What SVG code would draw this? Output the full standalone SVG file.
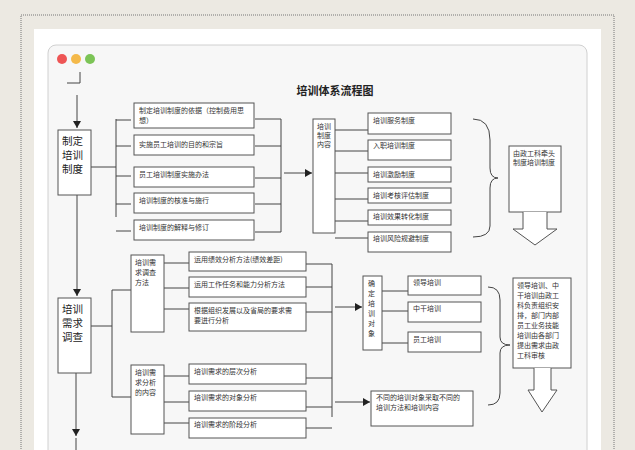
<svg xmlns="http://www.w3.org/2000/svg" width="635" height="450" viewBox="0 0 635 450">
<style>
.b{fill:#fff;stroke:#555;stroke-width:1}
.l{stroke:#444;stroke-width:1;fill:none}
text{font-family:"Noto Sans CJK SC","Noto Sans",sans-serif;fill:#333;font-size:7px}
.big{font-size:10.5px;fill:#222}
.t{font-size:11px;font-weight:bold;fill:#222}
</style>
<defs>
<marker id="ar" markerWidth="8" markerHeight="8" refX="7" refY="4" orient="auto" markerUnits="userSpaceOnUse"><path d="M0,0 L7,4 L0,8Z" fill="#222"/></marker>
</defs>
<rect width="635" height="450" fill="#ece9e2"/>
<rect x="21" y="15" width="593" height="445" fill="none" stroke="#777" stroke-dasharray="1,1"/>
<rect x="34" y="29" width="567" height="425" fill="#fff"/>
<rect x="48" y="45" width="539" height="420" rx="8" fill="#f7f7f7" stroke="#d0d0d0"/>
<circle cx="62" cy="59" r="5" fill="#ee5555"/><circle cx="76" cy="59" r="5" fill="#f4b94a"/><circle cx="90" cy="59" r="5" fill="#7cc456"/>
<text x="335" y="95" text-anchor="middle" class="t">培训体系流程图</text>
<g id="connectors">
<path class="l" d="M80,72 V83 H67"/>
<path class="l" d="M77,95 V128" marker-end="url(#ar)"/>
<path class="l" d="M77,195 V240 M77,240 V296" marker-end="url(#ar)"/>
<path class="l" d="M91,167 H116 M116,119 V217 M116,120 H131 M116,146 H131 M116,176 H131 M116,204 H131 M116,231 H131"/>
<path class="l" d="M255,119 H281 M255,146 H281 M255,178 H281 M255,204 H281 M255,232 H281 M281,119 V232"/>
<path class="l" d="M284,173 H312" marker-end="url(#ar)"/>
<path class="l" d="M335,130 H368 M335,151 H368 M335,173 H368 M335,199 H368 M335,221 H368 M335,238 H368"/>
<path class="l" d="M473,119 Q490,119 490,140 L490,168 Q490,178 498,178 Q490,178 490,188 L490,226 Q490,237 473,237"/>
<path class="l" d="M76,373 V436" marker-end="url(#ar)"/>
<path class="l" d="M76,438 V450"/>
<path class="l" d="M91,326 H112 M112,290 V397 M112,290 H131 M112,397 H131"/>
<path class="l" d="M164,263 H189 M164,288 H189 M164,309 H189 M164,376 H189 M164,402 H189 M164,423 H189"/>
<path class="l" d="M306,264 H332 M306,287 H332 M306,312 H332 M306,378 H332 M306,407 H332 M306,428 H332 M332,264 V417"/>
<path class="l" d="M335,307 H362" marker-end="url(#ar)"/>
<path class="l" d="M335,402 H370" marker-end="url(#ar)"/>
<path class="l" d="M382,291 H408 M382,311 H408 M382,343 H408"/>
<path class="l" d="M488,287 Q500,287 500,300 L500,337 Q500,345 510,345 Q500,345 500,353 L500,393 Q500,405 488,405"/>
</g>
<g id="n1"><rect class="b" x="58" y="130" width="33" height="65"/><text class="big" x="62" y="145">制定</text><text class="big" x="62" y="159">培训</text><text class="big" x="62" y="173">制度</text></g>
<g id="n2"><rect class="b" x="134" y="103" width="120" height="25"/><text x="139" y="113">制定培训制度的依据（控制费用思</text><text x="139" y="123">想）</text></g>
<g id="n3"><rect class="b" x="134" y="135" width="120" height="20"/><text x="139" y="147">实施员工培训的目的和宗旨</text></g>
<g id="n4"><rect class="b" x="134" y="167" width="120" height="20"/><text x="139" y="177">员工培训制度实施办法</text></g>
<g id="n5"><rect class="b" x="134" y="193" width="120" height="20"/><text x="139" y="203">培训制度的核准与施行</text></g>
<g id="n6"><rect class="b" x="134" y="220" width="120" height="20"/><text x="139" y="230">培训制度的解释与修订</text></g>
<g id="n7"><rect class="b" x="313" y="119" width="22" height="114"/><text x="317" y="129">培训</text><text x="317" y="138">制度</text><text x="317" y="147">内容</text></g>
<g id="n8"><rect class="b" x="368" y="113" width="83" height="21"/><text x="373" y="123">培训服务制度</text></g>
<g id="n9"><rect class="b" x="368" y="140" width="83" height="20"/><text x="373" y="148">入职培训制度</text></g>
<g id="n10"><rect class="b" x="368" y="167" width="83" height="15"/><text x="373" y="177">培训激励制度</text></g>
<g id="n11"><rect class="b" x="368" y="188" width="83" height="15"/><text x="373" y="198">培训考核评估制度</text></g>
<g id="n12"><rect class="b" x="368" y="210" width="83" height="15"/><text x="373" y="219">培训效果转化制度</text></g>
<g id="n13"><rect class="b" x="368" y="232" width="83" height="20"/><text x="373" y="241">培训风险规避制度</text></g>
<g id="n14"><rect class="b" x="509" y="146" width="52" height="66"/><text x="513" y="156">由政工科牵头</text><text x="513" y="165">制度培训制度</text></g>
<g id="a1"><path class="b" d="M523,212 V229 H513 L535,245 L557,229 H547 V212"/></g>
<g id="n15"><rect class="b" x="58" y="298" width="33" height="75"/><text class="big" x="62" y="313">培训</text><text class="big" x="62" y="327">需求</text><text class="big" x="62" y="341">调查</text></g>
<g id="n16"><rect class="b" x="131" y="255" width="33" height="77"/><text x="135" y="265">培训需</text><text x="135" y="275">求调查</text><text x="135" y="285">方法</text></g>
<g id="n17"><rect class="b" x="131" y="365" width="33" height="69"/><text x="135" y="375">培训需</text><text x="135" y="385">求分析</text><text x="135" y="395">的内容</text></g>
<g id="n18"><rect class="b" x="189" y="252" width="117" height="19"/><text x="194" y="262">运用绩效分析方法(绩效差距)</text></g>
<g id="n19"><rect class="b" x="189" y="277" width="117" height="20"/><text x="194" y="287">运用工作任务和能力分析方法</text></g>
<g id="n20"><rect class="b" x="189" y="303" width="117" height="28"/><text x="194" y="313">根据组织发展以及省局的要求需</text><text x="194" y="323">要进行分析</text></g>
<g id="n21"><rect class="b" x="189" y="364" width="117" height="20"/><text x="194" y="374">培训需求的层次分析</text></g>
<g id="n22"><rect class="b" x="189" y="391" width="117" height="20"/><text x="194" y="400">培训需求的对象分析</text></g>
<g id="n23"><rect class="b" x="189" y="418" width="117" height="20"/><text x="194" y="427">培训需求的阶段分析</text></g>
<g id="n24"><rect class="b" x="363" y="276" width="19" height="74"/><text x="368" y="286">确</text><text x="368" y="296">定</text><text x="368" y="306">培</text><text x="368" y="316">训</text><text x="368" y="326">对</text><text x="368" y="336">象</text></g>
<g id="n25"><rect class="b" x="408" y="276" width="73" height="19"/><text x="413" y="285">领导培训</text></g>
<g id="n26"><rect class="b" x="408" y="302" width="73" height="20"/><text x="413" y="311">中干培训</text></g>
<g id="n27"><rect class="b" x="408" y="332" width="73" height="20"/><text x="413" y="342">员工培训</text></g>
<g id="n28"><rect class="b" x="371" y="391" width="102" height="35"/><text x="376" y="400">不同的培训对象采取不同的</text><text x="376" y="410">培训方法和培训内容</text></g>
<g id="n29"><rect class="b" x="513" y="278" width="58" height="90"/><text x="517" y="288">领导培训、中</text><text x="517" y="298">干培训由政工</text><text x="517" y="308">科负责组织安</text><text x="517" y="318">排，部门内部</text><text x="517" y="328">员工业务技能</text><text x="517" y="338">培训由各部门</text><text x="517" y="348">提出需求由政</text><text x="517" y="358">工科审核</text></g>
<g id="a2"><path class="b" d="M534,368 V390 H528 L542,412 L557,390 H551 V368"/></g>
</svg>
